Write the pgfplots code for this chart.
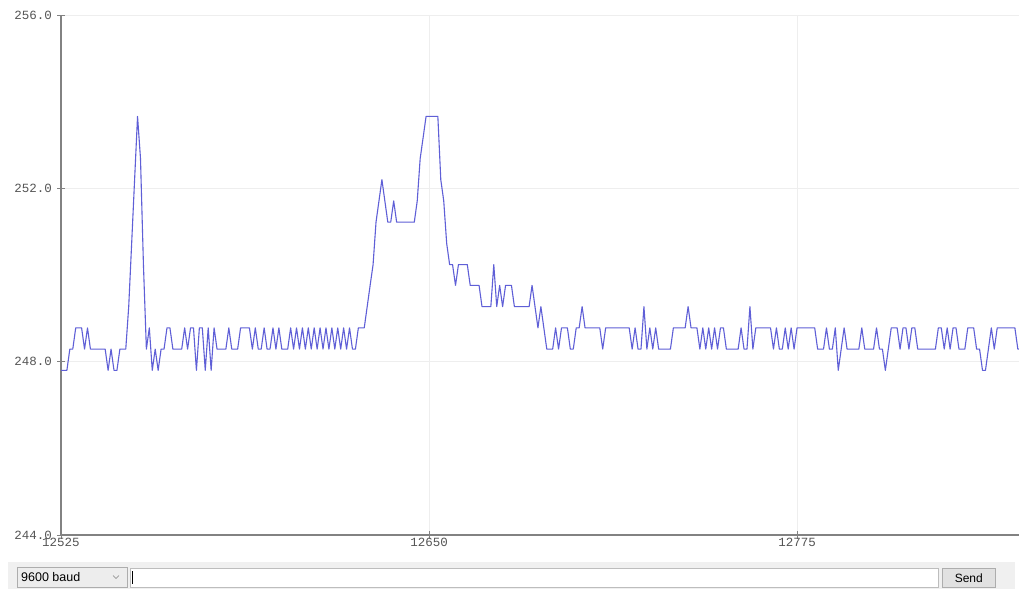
\documentclass[border=0pt]{standalone}
\usepackage{pgfplots}
\pgfplotsset{compat=1.18}
\usepackage{pgfplotstable}
\usepackage{fontspec}
\setmainfont{Liberation Sans}
\newfontfamily\monofont{Liberation Mono}
\definecolor{trace}{RGB}{95,95,215}
\definecolor{axisgray}{RGB}{130,130,130}
\definecolor{gridgray}{RGB}{238,238,238}
\definecolor{labelgray}{RGB}{85,85,85}
\definecolor{bargray}{RGB}{240,240,240}
\definecolor{btngray}{RGB}{225,225,225}
\definecolor{bordergray}{RGB}{173,173,173}

\pgfplotstableread{
x y
12525 247.80
12527 247.80
12528 248.29
12529 248.29
12530 248.78
12532 248.78
12533 248.29
12534 248.78
12535 248.29
12540 248.29
12541 247.80
12542 248.29
12543 247.80
12544 247.80
12545 248.29
12547 248.29
12548 249.27
12549 250.73
12550 252.20
12551 253.66
12552 252.69
12553 250.24
12554 248.29
12555 248.78
12556 247.80
12557 248.29
12558 247.80
12559 248.29
12560 248.29
12561 248.78
12562 248.78
12563 248.29
12566 248.29
12567 248.78
12568 248.29
12569 248.78
12570 248.78
12571 247.80
12572 248.78
12573 248.78
12574 247.80
12575 248.78
12576 247.80
12577 248.78
12578 248.29
12581 248.29
12582 248.78
12583 248.29
12585 248.29
12586 248.78
12589 248.78
12590 248.29
12591 248.78
12592 248.29
12593 248.29
12594 248.78
12595 248.29
12596 248.29
12597 248.78
12598 248.29
12599 248.78
12600 248.29
12602 248.29
12603 248.78
12604 248.29
12605 248.78
12606 248.29
12607 248.78
12608 248.29
12609 248.78
12610 248.29
12611 248.78
12612 248.29
12613 248.78
12614 248.29
12615 248.78
12616 248.29
12617 248.78
12618 248.29
12619 248.78
12620 248.29
12621 248.78
12622 248.29
12623 248.78
12624 248.29
12625 248.29
12626 248.78
12628 248.78
12629 249.27
12630 249.76
12631 250.24
12632 251.22
12633 251.71
12634 252.20
12635 251.71
12636 251.22
12637 251.22
12638 251.71
12639 251.22
12645 251.22
12646 251.71
12647 252.69
12648 253.17
12649 253.66
12653 253.66
12654 252.20
12655 251.71
12656 250.73
12657 250.24
12658 250.24
12659 249.76
12660 250.24
12663 250.24
12664 249.76
12667 249.76
12668 249.27
12671 249.27
12672 250.24
12673 249.27
12674 249.76
12675 249.27
12676 249.76
12678 249.76
12679 249.27
12684 249.27
12685 249.76
12686 249.27
12687 248.78
12688 249.27
12689 248.78
12690 248.29
12692 248.29
12693 248.78
12694 248.29
12695 248.78
12697 248.78
12698 248.29
12699 248.29
12700 248.78
12701 248.78
12702 249.27
12703 248.78
12708 248.78
12709 248.29
12710 248.78
12718 248.78
12719 248.29
12720 248.78
12721 248.29
12722 248.29
12723 249.27
12724 248.29
12725 248.78
12726 248.29
12727 248.78
12728 248.29
12732 248.29
12733 248.78
12737 248.78
12738 249.27
12739 248.78
12741 248.78
12742 248.29
12743 248.78
12744 248.29
12745 248.78
12746 248.29
12747 248.78
12748 248.29
12749 248.78
12750 248.78
12751 248.29
12755 248.29
12756 248.78
12757 248.29
12758 248.29
12759 249.27
12760 248.29
12761 248.78
12766 248.78
12767 248.29
12768 248.78
12769 248.29
12770 248.29
12771 248.78
12772 248.29
12773 248.78
12774 248.29
12775 248.78
12781 248.78
12782 248.29
12784 248.29
12785 248.78
12786 248.29
12787 248.29
12788 248.78
12789 247.80
12790 248.29
12791 248.78
12792 248.29
12796 248.29
12797 248.78
12798 248.29
12801 248.29
12802 248.78
12803 248.29
12804 248.29
12805 247.80
12806 248.29
12807 248.78
12809 248.78
12810 248.29
12811 248.78
12812 248.78
12813 248.29
12814 248.78
12815 248.78
12816 248.29
12822 248.29
12823 248.78
12824 248.78
12825 248.29
12826 248.78
12827 248.29
12828 248.78
12829 248.78
12830 248.29
12832 248.29
12833 248.78
12835 248.78
12836 248.29
12837 248.29
12838 247.80
12839 247.80
12840 248.29
12841 248.78
12842 248.29
12843 248.78
12849 248.78
12850 248.29
12852 248.29
}\datatable

\begin{document}
\begin{tikzpicture}[x=1pt,y=1pt]
\useasboundingbox (0,0) rectangle (1019,-589);
\fill[white] (0,0) rectangle (1019,-589);
\begin{axis}[
  at={(61pt,-535pt)}, anchor=south west,
  width=958pt, height=520pt, scale only axis,
  xmin=12525, xmax=12850.4, ymin=244, ymax=256,
  axis x line=bottom, axis y line=left,
  axis line style={-, draw=axisgray, line width=1.2pt},
  scaled x ticks=false, scaled y ticks=false,
  xtick={12525,12650,12775}, xticklabels={12525,12650,12775},
  ytick={244,248,252,256}, yticklabels={244.0,248.0,252.0,256.0},
  tick align=center, major tick length=8pt,
  tick style={draw=axisgray, line width=0.8pt},
  grid=major, grid style={draw=gridgray, line width=0.8pt},
  xticklabel style={font=\fontsize{12.5}{13}\monofont, text=labelgray, inner sep=0pt, anchor=north, yshift=1.5pt},
  yticklabel style={font=\fontsize{12.5}{13}\monofont, text=labelgray, inner sep=0pt, anchor=east, xshift=-5pt},
  clip=true,
]
\addplot[trace, line width=1.1pt, line join=round, no markers] table {\datatable};
\end{axis}
% bottom control bar
\fill[bargray] (8,-562) rectangle (1015,-589);
\draw[fill=btngray!60!white, draw=bordergray, line width=0.6pt] (17.5,-567.5) rectangle (127,-587.5);
\node[anchor=west, font=\fontsize{12.5}{13}\selectfont, inner sep=0pt] at (21,-577.5) {9600 baud};
\draw[gray, line width=0.6pt] (113,-575.5) -- (116,-578.5) -- (119,-575.5);
\draw[fill=white, draw=bordergray!80, line width=0.6pt] (130,-568.5) rectangle (938,-587);
\draw[black, line width=0.8pt] (132.5,-571) -- (132.5,-584);
\draw[fill=btngray, draw=bordergray, line width=0.6pt] (942.5,-568) rectangle (995,-587.5);
\node[font=\fontsize{12}{13}\selectfont, inner sep=0pt] at (968.75,-577.75) {Send};
\end{tikzpicture}
\end{document}
